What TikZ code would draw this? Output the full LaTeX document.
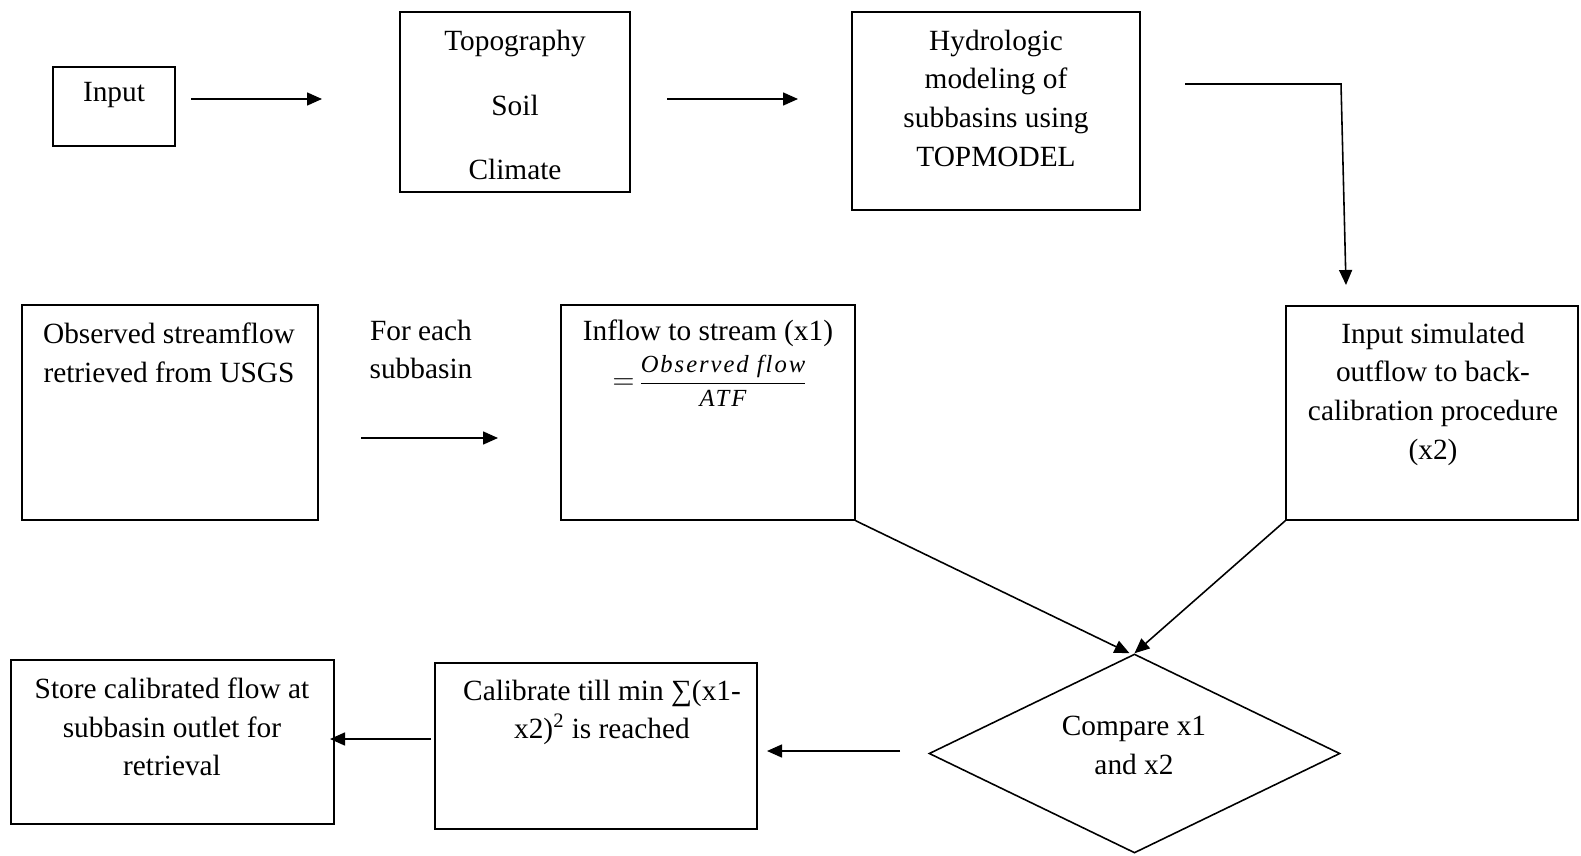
\documentclass[tikz,border=0pt]{standalone}
\usepackage{amsmath}
\usepackage{fontspec}
\setmainfont{Liberation Serif}
\usetikzlibrary{arrows.meta, shapes.geometric}

\begin{document}
\begin{tikzpicture}[x=0.02cm, y=-0.02cm, >={Triangle[length=0.3cm, width=0.26cm]},
    box/.style={draw, line width=0.9pt, inner sep=0pt},
    txt/.style={align=center, font=\fontsize{16.7}{22}\selectfont},
    link/.style={->, line width=0.9pt}]
	\useasboundingbox (0,0) rectangle (1581,855);

	% Top row
	\node[box, minimum width=2.44cm, minimum height=1.58cm] (input) at (114,106.5) {};
	\node[box, minimum width=4.6cm, minimum height=3.6cm] (topo) at (515,102) {};
	\node[box, minimum width=5.76cm, minimum height=3.96cm] (hydro) at (996,111) {};
	\node[txt] (inputtxt) at (114,95) {Input};
	\node[txt] (topotxt) at (515,105) {Topography\\[0.52cm]Soil\\[0.52cm]Climate};
	\node[txt] (hydrotxt) at (996,98) {Hydrologic\\modeling of\\subbasins using\\TOPMODEL};

	% Middle row
	\node[box, minimum width=5.92cm, minimum height=4.3cm] (obs) at (170,412.5) {};
	\node[box, minimum width=5.88cm, minimum height=4.3cm] (inflow) at (708,412.5) {};
	\node[box, minimum width=5.84cm, minimum height=4.28cm] (insim) at (1432,413) {};
	\node[txt] (obstxt) at (169,352.5) {Observed streamflow\\retrieved from USGS};
	\node[txt] (eachtxt) at (421,349.5) {For each\\subbasin};
	\node[txt] (inflowtxt) at (708,333) {Inflow to stream (x1)};
	\node[font=\fontsize{14}{16}\selectfont, inner sep=0pt] (ratio) at (710,381)
		{{\fontsize{16.7}{20}\selectfont$=$}\,$\displaystyle\frac{\textit{\addfontfeature{LetterSpace=8}Observed flow}}{\textit{\addfontfeature{LetterSpace=8}ATF}}$};
	\node[txt] (insimtxt) at (1433,394) {Input simulated\\outflow to back-\\calibration procedure\\(x2)};

	% Bottom row
	\node[box, minimum width=6.46cm, minimum height=3.28cm] (store) at (172.5,742) {};
	\node[box, minimum width=6.44cm, minimum height=3.32cm] (calib) at (596,746) {};
	\node[draw, diamond, line width=0.9pt, inner sep=0pt, minimum width=8.22cm, minimum height=3.98cm] (diam) at (1134.5,753.5) {};
	\node[txt] (storetxt) at (172,727) {Store calibrated flow at\\subbasin outlet for\\retrieval};
	\node[txt] (calibtxt) at (602,712.5) {Calibrate till min ∑(x1-\\x2)\textsuperscript{2} is reached};
	\node[txt] (diamtxt) at (1134,745.5) {Compare x1\\and x2};

	% Arrow ends
	\coordinate (a1s) at (191,99);   \coordinate (a1e) at (322,99);
	\coordinate (a2s) at (667,99);   \coordinate (a2e) at (798,99);
	\coordinate (a3s) at (1185,84);  \coordinate (a3m) at (1341,84);
	\coordinate (a3e) at (1346,285);
	\coordinate (a4s) at (361,438);  \coordinate (a4e) at (498,438);
	\coordinate (a7s) at (900,751);  \coordinate (a7e) at (767,751);
	\coordinate (a8s) at (431,739);  \coordinate (a8e) at (330,739);

	% Arrows
	\draw[link] (a1s) -- (a1e);
	\draw[link] (a2s) -- (a2e);
	\draw[link] (a3s) -- (a3m) -- (a3e);
	\draw[link] (a4s) -- (a4e);
	\draw[link] (inflow.south east) -- ([xshift=-0.1cm]diam.north);
	\draw[link] (insim.south west) -- (diam.north);
	\draw[link] (a7s) -- (a7e);
	\draw[link] (a8s) -- (a8e);
\end{tikzpicture}
\end{document}
